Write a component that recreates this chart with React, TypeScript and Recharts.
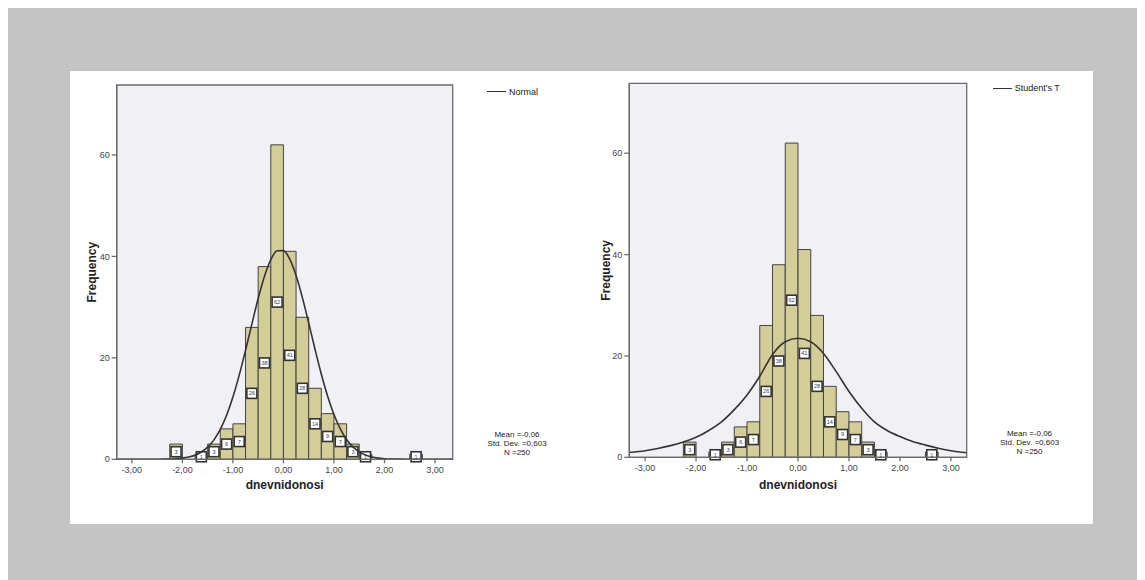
import React from "react";
import {
  ComposedChart,
  Line,
  XAxis,
  YAxis,
  CartesianGrid,
  ReferenceArea,
  Legend,
  Label,
} from "recharts";

// histogram bins (same sample in both panels)
const binStarts = [-2.25, -1.75, -1.5, -1.25, -1.0, -0.75, -0.5, -0.25, 0, 0.25, 0.5, 0.75, 1.0, 1.25, 1.5, 2.5];
const binCounts = [3, 1, 3, 6, 7, 26, 38, 62, 41, 28, 14, 9, 7, 3, 1, 1];
const binWidth = 0.25;

const xTicks = [-3, -2, -1, 0, 1, 2, 3];
const yTicks = [0, 20, 40, 60];
const yMax = 73.8;

// fitted curves
const normalX = [
  -3.3, -3.0, -2.75, -2.5, -2.375, -2.25, -2.125, -2.0, -1.875, -1.75, -1.625, -1.5, -1.375, -1.25,
  -1.125, -1.0, -0.875, -0.75, -0.625, -0.5, -0.375, -0.25, -0.125, 0, 0.125, 0.25, 0.375, 0.5,
  0.625, 0.75, 0.875, 1.0, 1.125, 1.25, 1.375, 1.5, 1.625, 1.75, 1.875, 2.0, 2.25, 2.5, 2.75, 3.0, 3.35,
];
const normalY = [
  0, 0, 0, 0.01, 0.03, 0.06, 0.12, 0.23, 0.45, 0.81, 1.43, 2.39, 3.83, 5.9,
  8.69, 12.27, 16.59, 21.49, 26.66, 31.69, 36.08, 39.35, 41.11, 41.15, 39.45, 36.23, 31.88, 26.87,
  21.69, 16.78, 12.43, 8.82, 5.99, 3.9, 2.44, 1.46, 0.83, 0.46, 0.24, 0.12, 0.03, 0.01, 0, 0, 0,
];

const studentX = [
  -3.31, -3.0, -2.75, -2.5, -2.25, -2.0, -1.75, -1.5, -1.25, -1.0, -0.75, -0.5, -0.25, 0,
  0.25, 0.5, 0.75, 1.0, 1.25, 1.5, 1.75, 2.0, 2.25, 2.5, 2.75, 3.0, 3.31,
];
const studentY = [
  0.95, 1.3, 1.75, 2.3, 3.0, 3.95, 5.3, 7.0, 9.4, 12.3, 16.0, 20.3, 22.8, 23.5,
  22.8, 20.5, 16.9, 13.0, 9.7, 7.0, 5.3, 4.1, 3.1, 2.4, 1.8, 1.3, 0.9,
];

const statLines = ["Mean =-0,06", "Std. Dev. =0,603", "N =250"];

const FONT = '"Liberation Sans", Arial, sans-serif';
const fmtX = (v: number) => v.toFixed(2).replace(".", ",");

function BinLabel(props: any) {
  const { viewBox, value } = props;
  const cx = viewBox.x + viewBox.width / 2;
  const cy = viewBox.y + viewBox.height / 2;
  return (
    <g>
      <rect x={cx - 5} y={cy - 5} width={10} height={10} fill="#fff" stroke="#333" strokeWidth={1.6} />
      <text x={cx} y={cy + 2} textAnchor="middle" fontSize={5.5} fill="#2a3a6a" fontFamily={FONT}>
        {value}
      </text>
    </g>
  );
}

function LegendLine({ name }: { name: string }) {
  return (
    <div style={{ display: "flex", alignItems: "center", fontFamily: FONT, fontSize: 9, color: "#222", whiteSpace: "nowrap" }}>
      <div style={{ width: 19, height: 1.5, background: "#333", marginRight: 3 }} />
      <span>{name}</span>
    </div>
  );
}

interface HistProps {
  curveX: number[];
  curveY: number[];
  name: string;
  xDomain: [number, number];
  left: number;
  width: number;
  margin: { top: number; right: number; bottom: number; left: number };
  yAxisWidth: number;
  xAxisHeight: number;
  legendPos: { left: number; top: number };
}

function Histogram(p: HistProps) {
  const data = p.curveX.map((x, i) => ({ x, y: p.curveY[i] }));
  return (
    <div style={{ position: "absolute", left: p.left, top: 63 }}>
      <ComposedChart width={p.width} height={450} data={data} margin={p.margin} style={{ fontFamily: FONT }}>
        <CartesianGrid horizontal={false} vertical={false} fill="#f0f0f5" />
        <XAxis
          dataKey="x"
          type="number"
          domain={p.xDomain}
          allowDataOverflow
          ticks={xTicks}
          tickFormatter={fmtX}
          height={p.xAxisHeight}
          tickSize={4}
          tickMargin={3}
          tick={{ fontSize: 9, fill: "#444" }}
          stroke="#6a6a6a"
          strokeWidth={1.3}
        >
          <Label value="dnevnidonosi" position="center" style={{ fontSize: 12, fontWeight: "bold", fill: "#222" }} />
        </XAxis>
        <YAxis
          type="number"
          domain={[0, yMax]}
          allowDataOverflow
          ticks={yTicks}
          width={p.yAxisWidth}
          tickSize={5}
          tickMargin={2}
          tick={{ fontSize: 9, fill: "#444" }}
          stroke="#6a6a6a"
          strokeWidth={1.3}
        >
          <Label
            value="Frequency"
            angle={-90}
            position="center"
            style={{ fontSize: 12, fontWeight: "bold", fill: "#222" }}
          />
        </YAxis>
        {binStarts.map((s, i) => (
          <ReferenceArea
            key={s}
            x1={s}
            x2={s + binWidth}
            y1={0}
            y2={binCounts[i]}
            fill="#d3ce97"
            fillOpacity={1}
            stroke="#444"
            strokeWidth={1}
            ifOverflow="visible"
            label={(lp: any) => <BinLabel {...lp} value={binCounts[i]} />}
          />
        ))}
        <Line
          type="monotone"
          dataKey="y"
          stroke="#333"
          strokeWidth={1.6}
          dot={false}
          activeDot={false}
          isAnimationActive={false}
        />
        {/* plot frame */}
        <ReferenceArea
          x1={p.xDomain[0]}
          x2={p.xDomain[1]}
          y1={0}
          y2={yMax}
          fill="none"
          stroke="#6a6a6a"
          strokeWidth={1.3}
          ifOverflow="visible"
        />
        <Legend
          layout="horizontal"
          verticalAlign="middle"
          align="center"
          wrapperStyle={{ left: p.legendPos.left, top: p.legendPos.top, width: "auto", height: 12 }}
          content={() => <LegendLine name={p.name} />}
        />
      </ComposedChart>
    </div>
  );
}

function Stats({ left, top }: { left: number; top: number }) {
  return (
    <div
      style={{
        position: "absolute",
        left: left - 60,
        top,
        width: 120,
        textAlign: "center",
        fontFamily: FONT,
        fontSize: 8,
        lineHeight: "9px",
        color: "#222",
      }}
    >
      {statLines.map((t) => (
        <div key={t}>{t}</div>
      ))}
    </div>
  );
}

export default function App() {
  return (
    <div style={{ position: "relative", width: 1137, height: 572, background: "#c4c4c4" }}>
      <div style={{ position: "absolute", left: 62, top: 63, width: 1023, height: 453, background: "#fff" }} />
      <Histogram
        curveX={normalX}
        curveY={normalY}
        name="Normal"
        xDomain={[-3.3, 3.35]}
        left={22}
        width={520}
        margin={{ top: 14, right: 97.3, bottom: 10.3, left: 36.7 }}
        yAxisWidth={50}
        xAxisHeight={51.4}
        legendPos={{ left: 457, top: 15.7 }}
      />
      <Histogram
        curveX={studentX}
        curveY={studentY}
        name="Student's T"
        xDomain={[-3.31, 3.31]}
        left={537}
        width={540}
        margin={{ top: 12.3, right: 118.3, bottom: 8.3, left: 37.7 }}
        yAxisWidth={46.6}
        xAxisHeight={55.4}
        legendPos={{ left: 447.7, top: 12.3 }}
      />
      <Stats left={509} top={421.5} />
      <Stats left={1021.5} top={420.8} />
    </div>
  );
}
